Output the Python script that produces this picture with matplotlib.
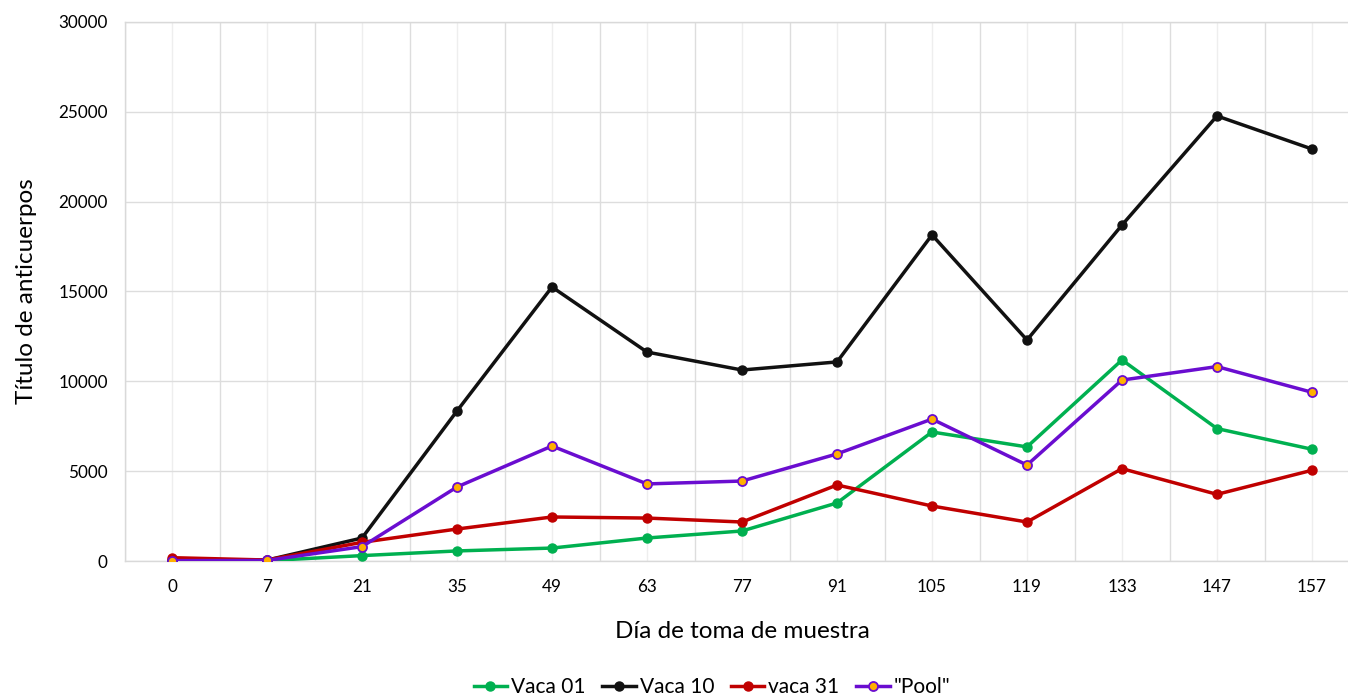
import matplotlib
matplotlib.use('Agg')
import matplotlib.pyplot as plt
import numpy as np

plt.rcParams['font.family'] = ['Lato', 'DejaVu Sans']

# días de muestreo (eje categórico)
dias = ['0', '7', '21', '35', '49', '63', '77', '91', '105', '119', '133', '147', '157']

# títulos de anticuerpos por animal
vaca01 = [20, 20, 300, 560, 720, 1280, 1670, 3230, 7180, 6350, 11190, 7370, 6220]
vaca10 = [60, 50, 1280, 8350, 15250, 11630, 10630, 11080, 18150, 12300, 18700, 24770, 22930]
vaca31 = [185, 55, 1040, 1780, 2450, 2390, 2170, 4230, 3060, 2170, 5140, 3710, 5050]
pool = [20, 30, 800, 4120, 6400, 4290, 4450, 5960, 7900, 5340, 10070, 10820, 9390]

fig = plt.figure(figsize=(13.48, 6.98), dpi=100)
ax = fig.add_axes([124.5/1348, 137/698, 1235/1348, 539/698])

x = np.arange(len(dias))
ax.plot(x, vaca01, color='#00B050', lw=2.5, marker='o', ms=6.5, label='Vaca 01', zorder=3)
ax.plot(x, vaca10, color='#111111', lw=2.5, marker='o', ms=6.5, label='Vaca 10', zorder=3)
ax.plot(x, vaca31, color='#C00000', lw=2.5, marker='o', ms=6.5, label='vaca 31', zorder=3)
ax.plot(x, pool, color='#6A0DD0', lw=2.5, marker='o', ms=6.5, mfc='#FFB000', mec='#6A0DD0',
        mew=1.3, label='"Pool"', zorder=3)

ax.set_xlim(-0.5, len(dias) - 0.5)
ax.set_ylim(0, 30000)
ax.set_xticks(x)
ax.set_xticklabels(dias)
ax.set_xticks(np.arange(-0.5, len(dias), 1.0), minor=True)
ax.set_yticks(np.arange(0, 30001, 5000))

# cuadrícula: líneas entre categorías y en el centro de cada una
ax.grid(True, which='minor', axis='x', color='#DDDDDD', lw=1.0, zorder=0)
ax.grid(True, which='major', axis='x', color='#EEEEEE', lw=1.0, zorder=0)
ax.grid(True, which='major', axis='y', color='#DDDDDD', lw=1.0, zorder=0)
ax.set_axisbelow(True)

ax.tick_params(which='both', length=0)
ax.tick_params(axis='y', labelsize=12.3, pad=12, colors='#000000')
ax.tick_params(axis='x', labelsize=12.3, pad=13, colors='#000000')

for s in ax.spines.values():
    s.set_color('#D9D9D9')
    s.set_linewidth(1.0)

ax.set_xlabel('Día de toma de muestra', fontsize=17.5, labelpad=19, color='#000000')
ax.set_ylabel('Título de anticuerpos', fontsize=17.5, labelpad=15, color='#000000')

fig.legend(loc='center', bbox_to_anchor=(712/1348, 1 - 687/698), ncol=4, frameon=False,
           fontsize=15, handlelength=1.6, handletextpad=0.2, columnspacing=0.8)

fig.savefig('out.png', dpi=100)
